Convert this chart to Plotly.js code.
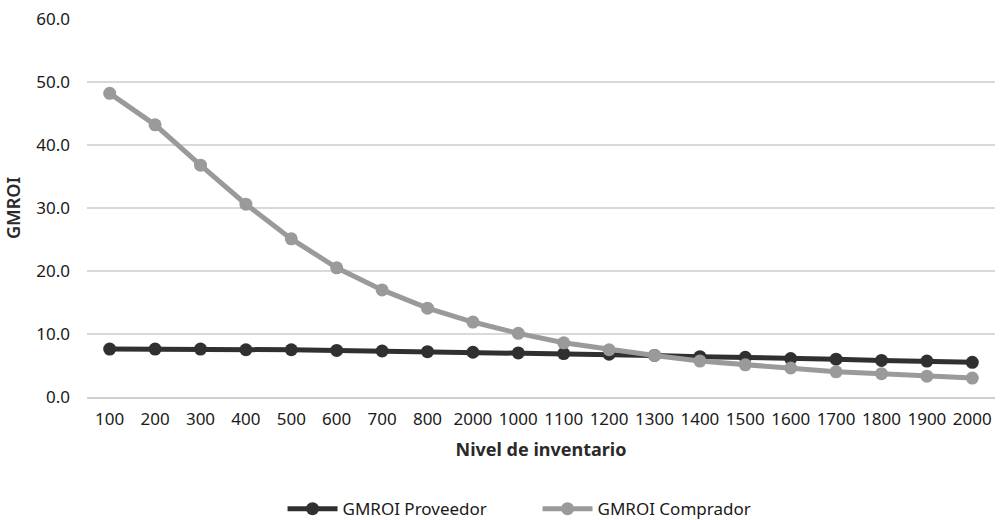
<!DOCTYPE html>
<html>
<head>
<meta charset="utf-8">
<script src="https://cdn.plot.ly/plotly-3.0.1.min.js"></script>
<style>html,body{margin:0;padding:0;background:#fff;}#chart{width:1001px;height:520px;}</style>
</head>
<body>
<div id="chart"></div>
<script>
const categories = ["100","200","300","400","500","600","700","800","2000","1000","1100","1200","1300","1400","1500","1600","1700","1800","1900","2000"];
const proveedor = [7.6,7.6,7.6,7.5,7.5,7.4,7.3,7.2,7.1,7.0,6.9,6.8,6.6,6.4,6.3,6.1,6.0,5.8,5.7,5.5];
const comprador = [48.2,43.2,36.8,30.6,25.1,20.5,17.0,14.1,11.9,10.1,8.6,7.5,6.6,5.7,5.1,4.6,4.0,3.7,3.3,3.0];
const seriesNames = ["GMROI Proveedor","GMROI Comprador"];

const idx = categories.map((_, i) => i);
const bounds = categories.map((_, i) => i - 0.5).concat([categories.length - 0.5]);
const font = "Noto Sans, Open Sans, sans-serif";

const traces = [
  {x: idx, y: proveedor, name: seriesNames[0], type: "scatter", mode: "lines+markers",
   line: {color: "#303030", width: 5}, marker: {color: "#303030", size: 13}},
  {x: idx, y: comprador, name: seriesNames[1], type: "scatter", mode: "lines+markers",
   line: {color: "#9a9a9a", width: 5}, marker: {color: "#9a9a9a", size: 13}}
];

const layout = {
  width: 1001, height: 520,
  margin: {l: 87, r: 6, t: 19, b: 123},
  paper_bgcolor: "#fff", plot_bgcolor: "#fff",
  font: {family: font, color: "#1a1a1a", size: 17},
  showlegend: true,
  legend: {orientation: "h", x: 0.537, xanchor: "center", xref: "container", y: 0.021, yanchor: "middle", yref: "container",
           font: {size: 17, color: "#1a1a1a"}, itemwidth: 50, tracegroupgap: 0, entrywidth: 190},
  xaxis: {
    automargin: false,
    range: [-0.5, categories.length - 0.5], tickmode: "array", tickvals: idx, ticktext: categories,
    ticks: "", showgrid: false, zeroline: false, showline: true, linecolor: "#d0d0d0", linewidth: 1.5,
    ticklabelstandoff: 6,
    tickfont: {size: 17, color: "#1a1a1a"}, fixedrange: true,
    title: {text: "Nivel de inventario", font: {size: 18, color: "#2a2a2a", family: font, weight: "bold"}, standoff: 14}
  },
  xaxis2: {
    automargin: false,
    overlaying: "x", matches: "x", range: [-0.5, categories.length - 0.5], tickmode: "array", tickvals: bounds,
    ticks: "outside", ticklen: 6, tickcolor: "#d0d0d0", tickwidth: 1.5, showticklabels: false,
    showgrid: false, zeroline: false, showline: false, side: "bottom", anchor: "y"
  },
  yaxis: {
    automargin: false,
    range: [0, 60], dtick: 10, tick0: 0, tickformat: ".1f", showgrid: true, gridcolor: "#d9d9d9", gridwidth: 1.5,
    zeroline: false, showline: false, ticks: "", ticklabelstandoff: 16,
    tickfont: {size: 17, color: "#1a1a1a"},
    title: {text: "GMROI", font: {size: 18, color: "#2a2a2a", family: font, weight: 600}, standoff: 10}
  }
};

Plotly.newPlot("chart", traces, layout, {displayModeBar: false, staticPlot: true});
</script>
</body>
</html>
